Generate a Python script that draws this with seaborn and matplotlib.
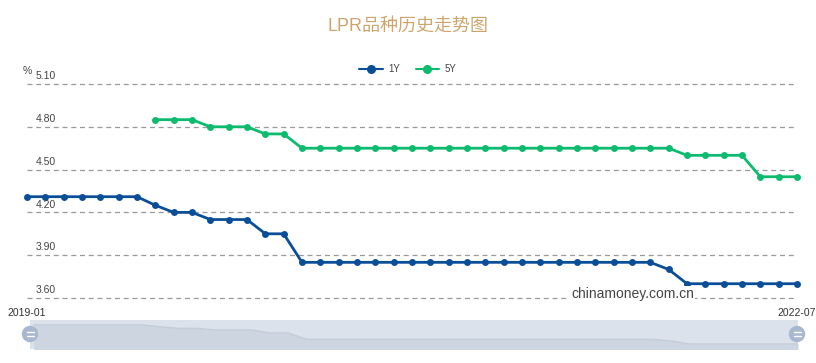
import numpy as np
import pandas as pd
import matplotlib
matplotlib.use("Agg")
import matplotlib.pyplot as plt
from matplotlib.patches import Ellipse
import seaborn as sns

# monthly LPR quotes, 2019-01 .. 2022-07
months = pd.period_range("2019-01", "2022-07", freq="M").strftime("%Y-%m").tolist()
lpr_1y = [4.31, 4.31, 4.31, 4.31, 4.31, 4.31, 4.31, 4.25, 4.20, 4.20,
          4.15, 4.15, 4.15, 4.05, 4.05, 3.85, 3.85, 3.85, 3.85, 3.85,
          3.85, 3.85, 3.85, 3.85, 3.85, 3.85, 3.85, 3.85, 3.85, 3.85,
          3.85, 3.85, 3.85, 3.85, 3.85, 3.80, 3.70, 3.70, 3.70, 3.70,
          3.70, 3.70, 3.70]
lpr_5y = [np.nan] * 7 + [4.85, 4.85, 4.85,
          4.80, 4.80, 4.80, 4.75, 4.75, 4.65, 4.65, 4.65, 4.65, 4.65,
          4.65, 4.65, 4.65, 4.65, 4.65, 4.65, 4.65, 4.65, 4.65, 4.65,
          4.65, 4.65, 4.65, 4.65, 4.65, 4.65, 4.60, 4.60, 4.60, 4.60,
          4.45, 4.45, 4.45]
y_ticks = [3.60, 3.90, 4.20, 4.50, 4.80, 5.10]

df = pd.DataFrame({"idx": np.arange(len(months)), "month": months,
                   "1Y": lpr_1y, "5Y": lpr_5y})
long_df = df.melt(id_vars=["idx", "month"], value_vars=["1Y", "5Y"],
                  var_name="tenor", value_name="rate").dropna()

sns.set_style("white")
plt.rcParams["font.family"] = ["Liberation Sans", "Noto Sans CJK SC", "DejaVu Sans"]

colors = {"1Y": "#0b4e98", "5Y": "#0dbb6e"}

fig = plt.figure(figsize=(8.16, 3.63), dpi=100)
W, H = 816, 363
ax = fig.add_axes([27 / W, 1 - 298 / H, 770 / W, 214 / H])

sns.lineplot(data=long_df, x="idx", y="rate", hue="tenor", palette=colors,
             marker="o", markersize=5, markeredgewidth=0, linewidth=2,
             ax=ax, legend=False, clip_on=False, zorder=3)

ax.set_xlim(0, len(months) - 1)
ax.set_ylim(y_ticks[0], y_ticks[-1])
ax.set_xlabel("")
ax.set_ylabel("")
ax.set_xticks([])
ax.set_yticks([])
for s in ax.spines.values():
    s.set_visible(False)
for t in y_ticks:
    ax.axhline(t, color="#9a9a9a", lw=0.9, ls=(0, (4, 3)), zorder=0, clip_on=False)
    ax.annotate(f"{t:.2f}", xy=(0, t), xycoords=("axes fraction", "data"),
                xytext=(6, 2), textcoords="offset points",
                fontsize=7.5, color="#444444", va="bottom", ha="left")
ax.annotate("%", xy=(0, 1), xycoords="axes fraction", xytext=(-3, 6),
            textcoords="offset points", fontsize=7.5, color="#444444",
            va="bottom", ha="left")

# date labels at both ends
ax.annotate(months[0], xy=(0, 0), xycoords="axes fraction", xytext=(0, -7),
            textcoords="offset points", fontsize=7.5, color="#333333",
            ha="center", va="top")
ax.annotate(months[-1], xy=(1, 0), xycoords="axes fraction", xytext=(0, -7),
            textcoords="offset points", fontsize=7.5, color="#333333",
            ha="center", va="top")

# watermark
fig.text(571 / W, 1 - 294 / H, "chinamoney.com.cn", fontsize=10, color="#444444",
         ha="left", va="center", zorder=10,
         bbox=dict(boxstyle="square,pad=0.1", fc="white", ec="none"))

# title
fig.text(0.5, 1 - 26 / H, "LPR品种历史走势图", fontsize=13, color="#cda56c",
         ha="center", va="center", family=["Liberation Sans", "Noto Sans CJK SC"])

# legend
handles = [plt.Line2D([], [], color=colors[k], lw=1.5, marker="o", markersize=5.5)
           for k in ["1Y", "5Y"]]
fig.legend(handles, ["1Y", "5Y"], loc="center", bbox_to_anchor=(0.5, 1 - 69 / H),
           ncol=2, frameon=False, fontsize=7, handlelength=2.4,
           columnspacing=1.6, handletextpad=0.6, labelcolor="#444444")

# data zoom slider with a mini view of the 1Y series
sax = fig.add_axes([30 / W, 1 - 349 / H, 768 / W, 29 / H])
sax.set_facecolor("#dce2ec")
sns.lineplot(data=df, x="idx", y="1Y", color="#c3ccd9", linewidth=1, ax=sax)
sax.fill_between(df["idx"], df["1Y"], 3.0, color="#cdd5e1", lw=0)
sax.set_xlim(-0.2, len(months) - 1)
sax.set_ylim(3.54, 4.47)
sax.set_xticks([])
sax.set_yticks([])
sax.set_xlabel("")
sax.set_ylabel("")
for s in sax.spines.values():
    s.set_visible(False)

for hx in (30, 797):
    fig.add_artist(Ellipse((hx / W, 1 - 334 / H), 15 / W, 15 / H,
                           transform=fig.transFigure, color="#a8b8cf", zorder=5))
    for dy in (-1.8, 1.8):
        fig.add_artist(plt.Line2D([(hx - 3.5) / W, (hx + 3.5) / W],
                                  [1 - (334 + dy) / H] * 2, transform=fig.transFigure,
                                  color="white", lw=1, zorder=6))

fig.savefig("out.png", dpi=100)
